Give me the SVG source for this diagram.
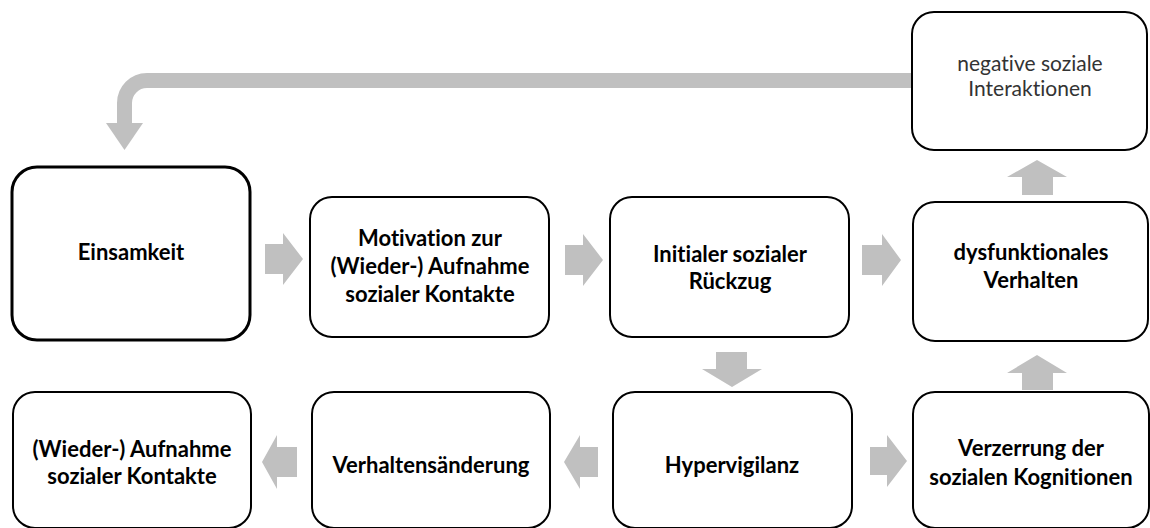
<svg xmlns="http://www.w3.org/2000/svg" width="1150" height="528" viewBox="0 0 1150 528">
<style>
.box{fill:#fff;stroke:#000;stroke-width:2}
.main{stroke-width:3}
.t{font-family:Lato,"Liberation Sans",sans-serif;font-weight:700;font-size:22px;fill:#000;text-anchor:middle;font-variant-ligatures:none}
.r{font-weight:400;fill:#333;font-size:21px}
.arr{fill:#c0c0c0;stroke:none}
.band{fill:none;stroke:#c0c0c0;stroke-width:15}
</style>
<rect width="1150" height="528" fill="#fff"/>
<g id="connectors">
<path class="band" d="M912,80.5 H147 A22.5,22.5 0 0 0 124.5,103 V124"/>
<polygon class="arr" points="106,123 143,123 124.5,150"/>
<polygon class="arr" points="265,244 283,244 283,233 303,259 283,285 283,274 265,274"/>
<polygon class="arr" points="565,245 583,245 583,234 603,260 583,286 583,275 565,275"/>
<polygon class="arr" points="862,245 882,245 882,234 901,260 882,286 882,275 862,275"/>
<polygon class="arr" points="297,447 277,447 277,435 262,462 277,489 277,477 297,477"/>
<polygon class="arr" points="598,447 580,447 580,435 564,462 580,489 580,477 598,477"/>
<polygon class="arr" points="870,447 887,447 887,435 907,461 887,487 887,475 870,475"/>
<polygon class="arr" points="716,352 747,352 747,369 762,369 732,387 702,369 716,369"/>
<polygon class="arr" points="1022,390 1053,390 1053,373 1067,373 1037,355 1007,373 1022,373"/>
<polygon class="arr" points="1022,195 1053,195 1053,177 1067,177 1037,160 1007,177 1022,177"/>
</g>
<g id="n-einsamkeit">
<rect class="box main" x="12" y="167" width="238" height="173" rx="25"/>
<text class="t" x="131" y="260">Einsamkeit</text>
</g>
<g id="n-motivation">
<rect class="box" x="310" y="197" width="239" height="140" rx="22"/>
<text class="t" x="430" y="246">Motivation zur</text>
<text class="t" x="430" y="274">(Wieder-) Aufnahme</text>
<text class="t" x="430" y="302">sozialer Kontakte</text>
</g>
<g id="n-rueckzug">
<rect class="box" x="610" y="197" width="239" height="140" rx="22"/>
<text class="t" x="730" y="262">Initialer sozialer</text>
<text class="t" x="730" y="289">Rückzug</text>
</g>
<g id="n-dysfunktional">
<rect class="box" x="913" y="202" width="235" height="139" rx="22"/>
<text class="t" x="1031" y="260">dysfunktionales</text>
<text class="t" x="1031" y="288">Verhalten</text>
</g>
<g id="n-negativ">
<rect class="box" x="912" y="12" width="235" height="138" rx="22"/>
<text class="t r" x="1030" y="71">negative soziale</text>
<text class="t r" x="1030" y="96">Interaktionen</text>
</g>
<g id="n-aufnahme">
<rect class="box" x="13" y="392" width="238" height="136" rx="22"/>
<text class="t" x="132" y="457">(Wieder-) Aufnahme</text>
<text class="t" x="132" y="484">sozialer Kontakte</text>
</g>
<g id="n-verhaltensaenderung">
<rect class="box" x="312" y="392" width="238" height="136" rx="22"/>
<text class="t" x="431" y="473">Verhaltensänderung</text>
</g>
<g id="n-hypervigilanz">
<rect class="box" x="613" y="392" width="239" height="136" rx="22"/>
<text class="t" x="732" y="473">Hypervigilanz</text>
</g>
<g id="n-verzerrung">
<rect class="box" x="913" y="392" width="236" height="136" rx="22"/>
<text class="t" x="1031" y="456">Verzerrung der</text>
<text class="t" x="1031" y="485">sozialen Kognitionen</text>
</g>
</svg>
